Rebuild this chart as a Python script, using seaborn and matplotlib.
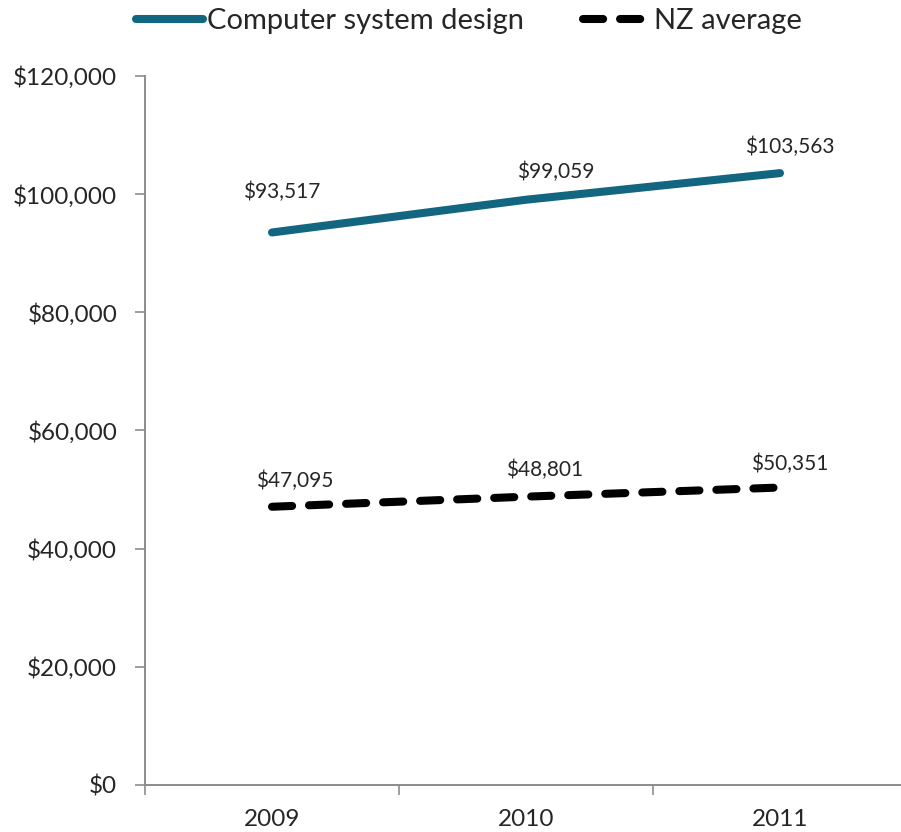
import matplotlib
matplotlib.use("Agg")
import matplotlib.pyplot as plt
import seaborn as sns
import pandas as pd
from matplotlib.ticker import FuncFormatter
from matplotlib.lines import Line2D

years = ["2009", "2010", "2011"]
computer_design = [93517, 99059, 103563]
nz_average = [47095, 48801, 50351]
series_names = ["Computer system design", "NZ average"]

df = pd.DataFrame({
    "year": years * 2,
    "value": computer_design + nz_average,
    "series": [series_names[0]] * 3 + [series_names[1]] * 3,
})

sns.set_theme(style="white")
plt.rcParams["font.family"] = ["Lato", "DejaVu Sans"]

fig = plt.figure(figsize=(9.01, 8.32), dpi=100)
ax = fig.add_axes([145 / 901, 1 - 785 / 832, (907 - 145) / 901, (785 - 76) / 832])

teal = "#126680"
lw = 5.8
dash = (2.5, 2.1)
sns.lineplot(data=df, x="year", y="value", hue="series", style="series",
             palette={series_names[0]: teal, series_names[1]: "black"},
             dashes={series_names[0]: "", series_names[1]: dash},
             linewidth=lw, ax=ax, legend=False, sort=False)
for ln in ax.get_lines():
    ln.set_solid_capstyle("round")
    ln.set_dash_capstyle("round")

ax.set_xlim(-0.5, 2.5)
ax.set_ylim(0, 120000)
ax.set_yticks(range(0, 120001, 20000))
ax.yaxis.set_major_formatter(FuncFormatter(lambda v, p: f"${v:,.0f}"))
ax.set_xlabel("")
ax.set_ylabel("")

ax.set_xticks([0, 1, 2])
ax.set_xticklabels(years)
ax.set_xticks([-0.5, 0.5, 1.5, 2.5], minor=True)
ax.tick_params(axis="x", which="major", length=0, pad=17, labelsize=17.5)
ax.tick_params(axis="x", which="minor", length=7, width=1.2, color="#8c8c8c", direction="out")
ax.tick_params(axis="y", length=7, width=1.2, color="#8c8c8c", direction="out", labelsize=17.5, pad=13)
ax.xaxis.set_tick_params(bottom=True, which="minor")
ax.yaxis.set_tick_params(left=True)

for side in ["top", "right"]:
    ax.spines[side].set_visible(False)
for side in ["left", "bottom"]:
    ax.spines[side].set_color("#8c8c8c")
    ax.spines[side].set_linewidth(1.4)

# value labels above each point (offsets in pixels)
off_top = [(10, 34), (30, 22), (10, 20)]
off_nz = [(23, 20), (19, 21), (10, 17)]
for i, v in enumerate(computer_design):
    ax.annotate(f"${v:,}", (i, v), xytext=off_top[i], textcoords="offset pixels",
                ha="center", va="baseline", fontsize=15)
for i, v in enumerate(nz_average):
    ax.annotate(f"${v:,}", (i, v), xytext=off_nz[i], textcoords="offset pixels",
                ha="center", va="baseline", fontsize=15)

handles = [
    Line2D([], [], color=teal, linewidth=lw, solid_capstyle="round"),
    Line2D([], [], color="black", linewidth=lw, linestyle=(0, dash), dash_capstyle="round"),
]
fig.legend(handles, series_names, loc="center", bbox_to_anchor=(469 / 901, 1 - 21 / 832),
           ncol=2, frameon=False, fontsize=21, handlelength=2.3, handletextpad=0.15,
           columnspacing=2.0, borderaxespad=0, borderpad=0)

fig.savefig("out.png", dpi=100)
